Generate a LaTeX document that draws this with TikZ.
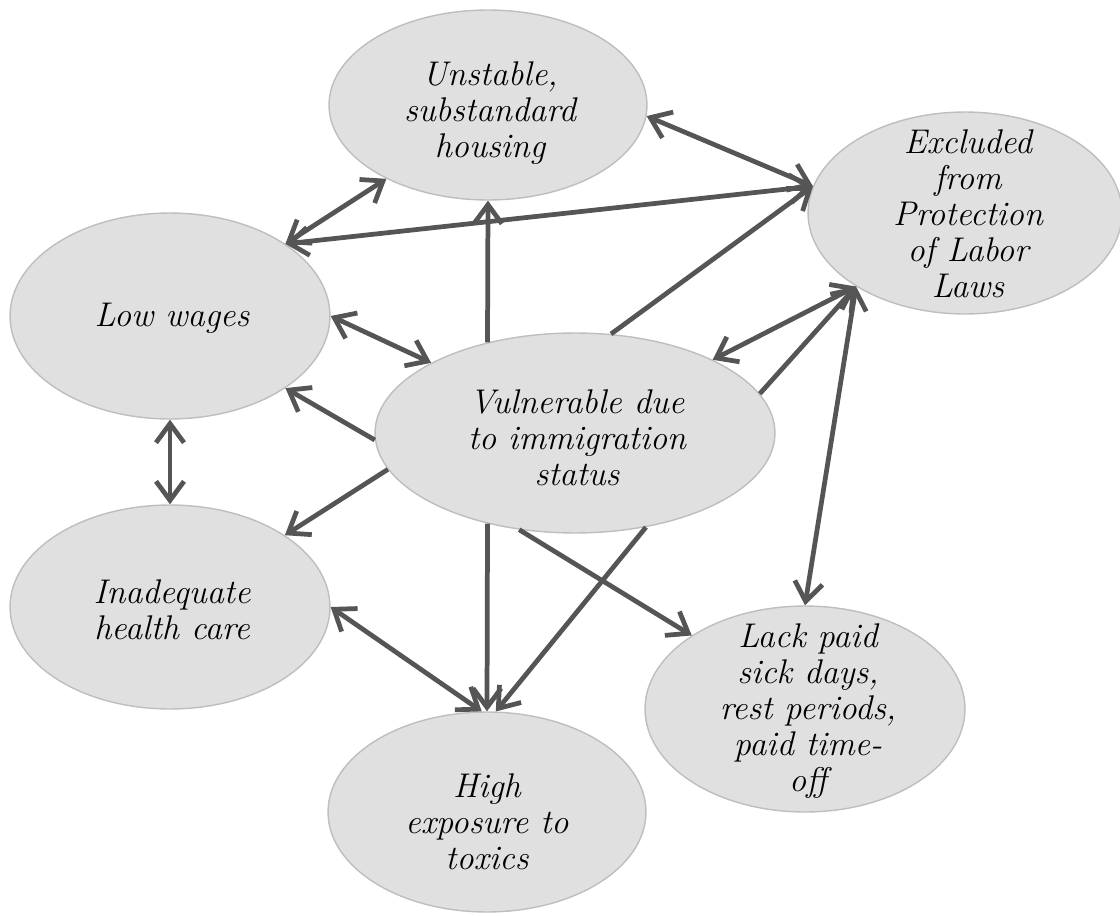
\documentclass[tikz,border=0pt]{standalone}
\usepackage{fontspec}
\usepackage{tikz}
\usetikzlibrary{shapes.geometric, arrows.meta}
\definecolor{blobfill}{RGB}{224, 224, 224}
\definecolor{blobline}{RGB}{190, 190, 190}
\definecolor{linkgray}{RGB}{85, 85, 85}

\begin{document}
\begin{tikzpicture}[x=0.02cm, y=-0.02cm,
    blob/.style={ellipse, fill=blobfill, draw=blobline, line width=0.8pt, inner sep=0pt},
    words/.style={align=center, font=\fontsize{19.5}{20.5}\selectfont\itshape},
    link/.style={draw=linkgray, line width=2.7pt},
    cause/.style={link, -{Straight Barb[length=3.8mm, width=5.6mm]}},
    mutual/.style={link, {Straight Barb[length=3.8mm, width=5.6mm]}-{Straight Barb[length=3.8mm, width=5.6mm]}}]
  \useasboundingbox (0,0) rectangle (1120,916);
  \node[blob, minimum width=6.36cm, minimum height=3.8cm] (hou) at (488,105) {};
  \node[blob, minimum width=6.28cm, minimum height=4.04cm] (exc) at (965,213) {};
  \node[blob, minimum width=6.4cm, minimum height=4.12cm] (lw) at (170,316) {};
  \node[blob, minimum width=8cm, minimum height=4cm] (vul) at (575,433) {};
  \node[blob, minimum width=6.4cm, minimum height=4.08cm] (ina) at (170,607) {};
  \node[blob, minimum width=6.4cm, minimum height=4.12cm] (lac) at (805,709) {};
  \node[blob, minimum width=6.36cm, minimum height=4cm] (hi) at (487,812) {};
  \node[words] (hou-t) at (490,113) {Unstable,\\ substandard\\ housing};
  \node[words] (exc-t) at (968,214) {Excluded\\ from\\ Protection\\ of Labor\\ Laws};
  \node[words] (lw-t) at (172,318) {Low wages};
  \node[words] (vul-t) at (577,438) {Vulnerable due\\ to immigration\\ status};
  \node[words] (ina-t) at (172,610) {Inadequate\\ health care};
  \node[words] (lac-t) at (808,711) {Lack paid\\ sick days,\\ rest periods,\\ paid time-\\ off};
  \node[words] (hi-t) at (487,822) {High\\ exposure to\\ toxics};
  \draw[mutual] (lw.32) -- (hou.216);
  \draw[mutual] (lw.32) -- (exc.170);
  \draw[mutual] (hou.-4) -- (exc.170);
  \draw[cause] (vul.134) -- (hou.south);
  \draw[cause] (vul.70) -- (exc.170);
  \draw[mutual] (lw.east) -- (vul.154);
  \draw[cause] (vul.182) -- (lw.-32);
  \draw[mutual] (lw.south) -- (ina.north);
  \draw[cause] (vul.191) -- (ina.32);
  \draw[mutual] (vul.28) -- (exc.214);
  \draw[cause] (vul.12) -- (exc.214);
  \draw[mutual] (exc.214) -- (lac.north);
  \draw[cause] (vul.226) -- (hi.north);
  \draw[cause] (vul.307) -- (hi.85);
  \draw[cause] (vul.240) -- (lac.147);
  \draw[mutual] (ina.east) -- (hi.93);
\end{tikzpicture}
\end{document}
